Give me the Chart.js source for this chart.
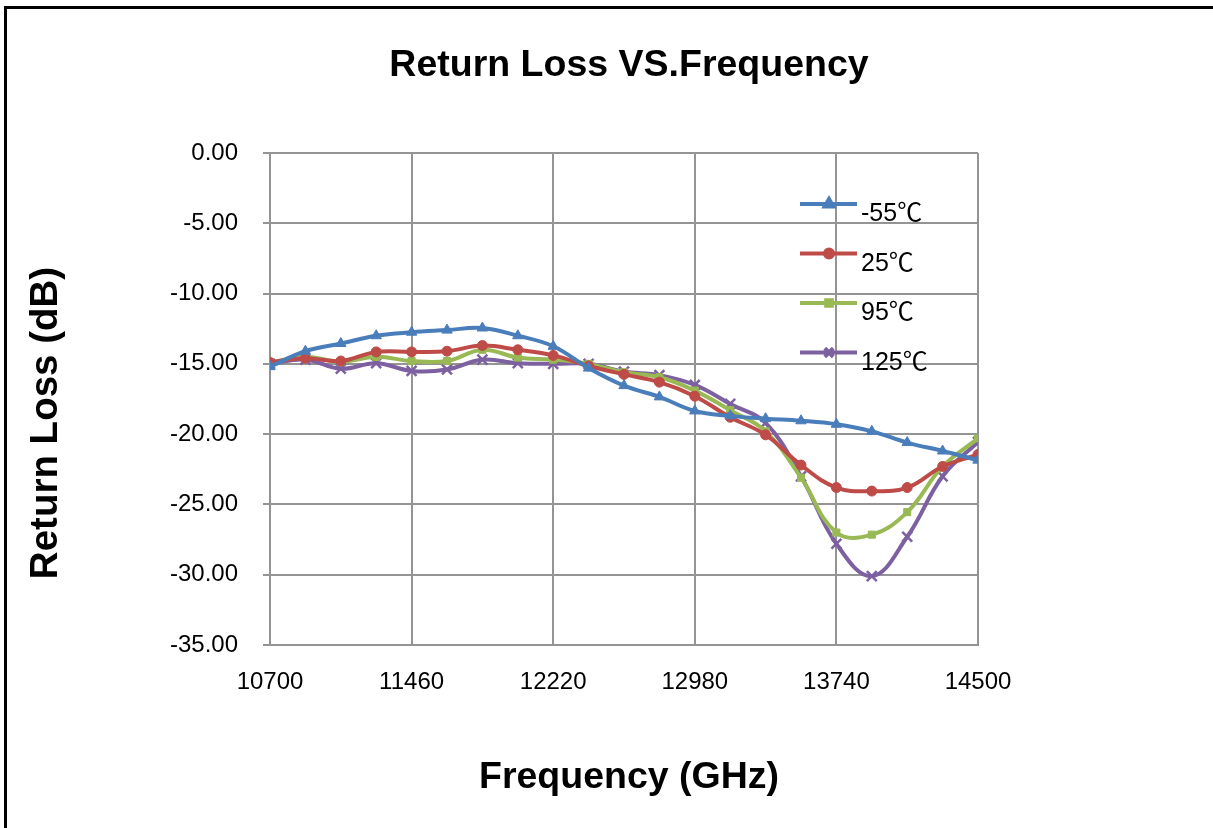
<!DOCTYPE html>
<html>
<head>
<meta charset="utf-8">
<script src="https://cdn.jsdelivr.net/npm/chart.js@4/dist/chart.umd.min.js"></script>
<style>
  html, body { margin: 0; padding: 0; background: #fff; }
  #wrap { position: relative; width: 1213px; height: 828px; overflow: hidden; }
  #frame { position: absolute; left: 4px; top: 6px; width: 3000px; height: 3000px;
           border-left: 3px solid #000; border-top: 3px solid #000; }
  #c { position: absolute; left: 0; top: 0; }
</style>
</head>
<body>
<div id="wrap">
  <div id="frame"></div>
  <canvas id="c" width="1213" height="828"></canvas>
</div>
<script>
// ---- data ----
const freq = [10700, 10890, 11080, 11270, 11460, 11650, 11840, 12030, 12220, 12410, 12600,
              12790, 12980, 13170, 13360, 13550, 13740, 13930, 14120, 14310, 14500];
const rlMinus55 = [-15.2, -14.1, -13.55, -13.0, -12.75, -12.6, -12.45, -13.0, -13.75, -15.3, -16.55,
                   -17.35, -18.35, -18.7, -18.9, -19.05, -19.3, -19.8, -20.6, -21.2, -21.85];
const rl25 = [-14.9, -14.6, -14.8, -14.15, -14.15, -14.1, -13.7, -14.0, -14.4, -15.15, -15.75,
              -16.3, -17.3, -18.8, -20.05, -22.2, -23.8, -24.05, -23.8, -22.3, -21.45];
const rl95 = [-14.9, -14.5, -14.85, -14.5, -14.8, -14.8, -14.0, -14.55, -14.7, -15.0, -15.6,
              -15.95, -16.9, -18.3, -19.8, -23.1, -27.0, -27.15, -25.55, -22.3, -20.3];
const rl125 = [-15.0, -14.7, -15.35, -14.95, -15.5, -15.4, -14.7, -14.95, -15.0, -15.0, -15.55,
               -15.8, -16.5, -17.85, -19.2, -23.0, -27.8, -30.1, -27.3, -23.0, -20.55];
const seriesNames = ['-55\u2103', '25\u2103', '95\u2103', '125\u2103'];
const xTicks = [10700, 11460, 12220, 12980, 13740, 14500];
const yTicks = [0, -5, -10, -15, -20, -25, -30, -35];
const chartTitle = 'Return Loss VS.Frequency';
const xTitle = 'Frequency (GHz)';
const yTitle = 'Return Loss (dB)';

// ---- styles ----
const colors = ['#4A7EBB', '#BE4B48', '#98B954', '#7D60A0'];
const pStyles = ['triangle', 'circle', 'rect', 'crossRot'];
const pRadius = [6, 5, 5, 7];
const gridColor = '#949494';
const FONT = '"Liberation Sans", Arial, "Noto Sans CJK SC", sans-serif';

const allSeries = [rlMinus55, rl25, rl95, rl125];
const datasets = allSeries.map((arr, i) => ({
  label: seriesNames[i],
  data: freq.map((f, k) => ({ x: f, y: arr[k] })),
  borderColor: colors[i],
  backgroundColor: colors[i],
  borderWidth: 4,
  tension: 0.4,
  pointStyle: pStyles[i],
  pointRadius: pRadius[i],
  pointBorderWidth: i === 3 ? 2.5 : 1,
  pointBackgroundColor: colors[i],
  pointBorderColor: colors[i],
  fill: false
}));

const decorPlugin = {
  id: 'decor',
  afterDraw(chart) {
    const ctx = chart.ctx;
    ctx.save();
    ctx.fillStyle = '#000';
    // main title
    ctx.font = 'bold 37.5px ' + FONT;
    ctx.textAlign = 'center';
    ctx.textBaseline = 'alphabetic';
    ctx.fillText(chartTitle, 629, 76);
    // x title
    ctx.fillText(xTitle, 629, 788);
    // y title
    ctx.save();
    ctx.translate(57, 423);
    ctx.rotate(-Math.PI / 2);
    ctx.font = 'bold 38.5px ' + FONT;
    ctx.fillText(yTitle, 0, 0);
    ctx.restore();
    // legend
    const lys = [204, 253.5, 303, 352.5];
    chart.data.datasets.forEach((ds, i) => {
      const y = lys[i];
      ctx.strokeStyle = ds.borderColor;
      ctx.fillStyle = ds.borderColor;
      ctx.lineWidth = 4;
      ctx.beginPath();
      ctx.moveTo(800, y);
      ctx.lineTo(857, y);
      ctx.stroke();
      Chart.helpers.drawPoint(ctx, {
        pointStyle: ds.pointStyle, radius: ds.pointRadius - 1,
        borderWidth: ds.pointBorderWidth, rotation: 0
      }, 829, y);
      ctx.fillStyle = '#000';
      ctx.font = '25px ' + FONT;
      ctx.textAlign = 'left';
      ctx.textBaseline = 'alphabetic';
      ctx.fillText(ds.label, 861, y + 17);
    });
    ctx.restore();
  }
};

new Chart(document.getElementById('c'), {
  type: 'line',
  data: { datasets },
  plugins: [decorPlugin],
  options: {
    responsive: false,
    animation: false,
    devicePixelRatio: 1,
    layout: { padding: { top: 153, right: 235, left: 0, bottom: 0 } },
    plugins: { legend: { display: false }, title: { display: false }, tooltip: { enabled: false } },
    scales: {
      x: {
        type: 'linear',
        min: 10700, max: 14500,
        afterFit(s) { s.height = 183; },
        afterBuildTicks(s) { s.ticks = xTicks.map(v => ({ value: v })); },
        grid: { color: gridColor, lineWidth: 2, drawTicks: false },
        border: { color: gridColor, width: 2 },
        ticks: {
          color: '#000', padding: 23, maxRotation: 0, autoSkip: false,
          font: { family: FONT, size: 24 },
          callback: v => String(v)
        }
      },
      y: {
        type: 'linear',
        min: -35, max: 0,
        afterFit(s) { s.width = 270; },
        afterBuildTicks(s) { s.ticks = yTicks.map(v => ({ value: v })); },
        grid: { color: gridColor, lineWidth: 2, drawTicks: true, tickLength: 7 },
        border: { color: gridColor, width: 2 },
        ticks: {
          color: '#000', padding: 25, autoSkip: false,
          font: { family: FONT, size: 24 },
          callback: v => Number(v).toFixed(2)
        }
      }
    }
  }
});
</script>
</body>
</html>
